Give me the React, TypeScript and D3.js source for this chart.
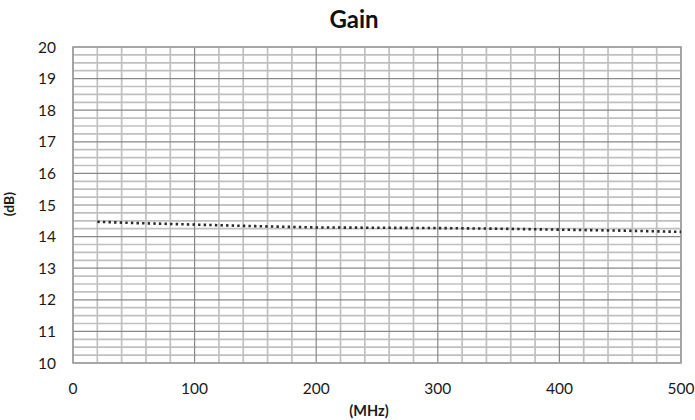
import React from "react";
import * as d3 from "d3";

const freqMHz = [20, 50, 100, 150, 200, 250, 300, 350, 400, 450, 500];
const gainDb = [14.47, 14.43, 14.38, 14.33, 14.29, 14.28, 14.27, 14.25, 14.22, 14.19, 14.15];
const xTicks = [0, 100, 200, 300, 400, 500];
const yTicks = [10, 11, 12, 13, 14, 15, 16, 17, 18, 19, 20];
const titleText = "Gain";
const xLabel = "(MHz)";
const yLabel = "(dB)";

const W = 695;
const H = 420;
const M = { left: 73, right: 681, top: 47, bottom: 363 };
const FONT = "Lato, 'Open Sans', sans-serif";

export default function App() {
  const x = d3.scaleLinear().domain([0, 500]).range([M.left, M.right]);
  const y = d3.scaleLinear().domain([10, 20]).range([M.bottom, M.top]);

  const xMinor = d3.range(0, 500.001, 20).filter((v) => v % 100 !== 0);
  const yMinor = d3.range(10, 20.001, 0.25).filter((v) => Math.abs(v - Math.round(v)) > 1e-6);

  const line = d3
    .line<number>()
    .x((_, i) => x(freqMHz[i]))
    .y((d) => y(d));

  return (
    <div style={{ position: "absolute", left: 0, top: 0 }}>
      <svg width={W} height={H} style={{ display: "block", background: "#fff" }}>
        {yMinor.map((v) => (
          <line key={"ym" + v} x1={M.left} x2={M.right} y1={y(v)} y2={y(v)} stroke="#c0c0c0" strokeWidth={1.7} />
        ))}
        {xMinor.map((v) => (
          <line key={"xm" + v} x1={x(v)} x2={x(v)} y1={M.top} y2={M.bottom} stroke="#c0c0c0" strokeWidth={1.7} />
        ))}
        {yTicks.map((v) => (
          <line key={"yM" + v} x1={M.left} x2={M.right} y1={y(v)} y2={y(v)} stroke="#888" strokeWidth={1.2} />
        ))}
        {xTicks.map((v) => (
          <line key={"xM" + v} x1={x(v)} x2={x(v)} y1={M.top} y2={M.bottom} stroke="#888" strokeWidth={1.2} />
        ))}
        <rect x={M.left} y={M.top} width={M.right - M.left} height={M.bottom - M.top} fill="none" stroke="#a0a0a0" strokeWidth={1.6} />

        <path
          d={line(gainDb) || ""}
          fill="none"
          stroke="#2a2a2a"
          strokeWidth={2.6}
          strokeDasharray="2.4,3.2"
        />

        {yTicks.map((v) => (
          <text key={"yt" + v} x={56} y={y(v)} dy="0.36em" textAnchor="end" fontFamily={FONT} fontSize={15.5} fill="#1a1a1a">
            {v}
          </text>
        ))}
        {xTicks.map((v) => (
          <text key={"xt" + v} x={x(v)} y={394} textAnchor="middle" fontFamily={FONT} fontSize={15.5} fill="#1a1a1a">
            {v}
          </text>
        ))}
        <text x={354} y={28} textAnchor="middle" fontFamily={FONT} fontSize={24} fontWeight="bold" fill="#111">
          {titleText}
        </text>
        <text x={369} y={416} textAnchor="middle" fontFamily={FONT} fontSize={14.5} fontWeight="bold" fill="#1a1a1a">
          {xLabel}
        </text>
        <text
          transform={`translate(14, 204) rotate(-90)`}
          textAnchor="middle"
          fontFamily={FONT}
          fontSize={14}
          fontWeight="bold"
          fill="#1a1a1a"
        >
          {yLabel}
        </text>
      </svg>
    </div>
  );
}
